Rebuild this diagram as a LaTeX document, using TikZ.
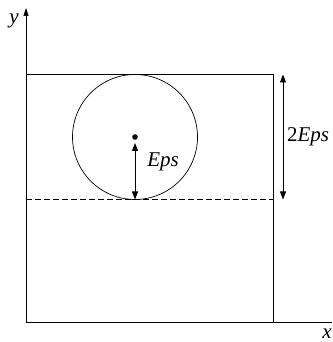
\documentclass[tikz,border=0pt]{standalone}
\usepackage{fontspec}
\setmainfont{Liberation Serif}
\usetikzlibrary{arrows.meta}
\tikzset{
  lbl/.style={font=\fontsize{21}{23}\selectfont\itshape, inner sep=0pt},
  dim/.style={line width=0.8pt, {Triangle[length=8pt,width=6pt]}-{Triangle[length=8pt,width=6pt]}}
}
\begin{document}
\begin{tikzpicture}[x=1pt,y=1pt,line width=0.7pt]
  \useasboundingbox (0,0) rectangle (332,342);
  \coordinate (O) at (26,20);
  \coordinate (ytop) at (26,334);
  \coordinate (xend) at (332,20);
  \coordinate (centre) at (135,205);
  \coordinate (bottom) at (135,142.5);
  \coordinate (dtop) at (283,267.5);
  \coordinate (dbot) at (283,142.5);
  % axes
  \draw[-{Triangle[length=8pt,width=5pt]}] (O) -- (ytop);
  \draw (O) -- (xend);
  \node[lbl] (ylabel) at (14,321) {y};
  \node[lbl] (xlabel) at (327,8) {x};
  % box, circle and level
  \draw (O) rectangle (273,267.5);
  \draw (centre) circle (62.5);
  \draw[dashed, dash pattern=on 6pt off 3pt] (26,142.5) -- (273,142.5);
  \fill (centre) circle (2.8);
  % dimensions
  \draw[dim, shorten >=6pt] (bottom) -- (centre);
  \node[lbl] (eps) at (163,180) {Eps};
  \draw[dim] (dtop) -- (dbot);
  \node[lbl] (twoeps) at (308,205) {\upshape 2\itshape Eps};
\end{tikzpicture}
\end{document}
